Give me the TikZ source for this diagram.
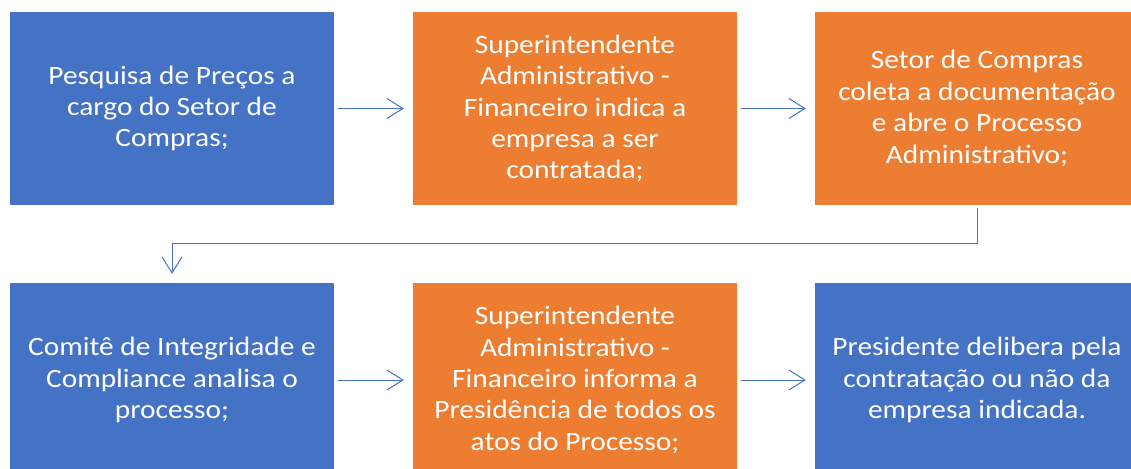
\documentclass[tikz,border=0pt]{standalone}
\usepackage{fontspec}
\setmainfont{Carlito}[FakeStretch=1.11]
\usetikzlibrary{arrows.meta}
\definecolor{cblue}{HTML}{4472C4}
\definecolor{corange}{HTML}{ED7D31}
\tikzset{
  stepbox/.style={rectangle, minimum width=324pt, inner sep=0pt, align=center, text=white,
    font=\fontsize{26.5}{31.4}\selectfont},
  topbox/.style={stepbox, minimum height=193pt},
  botbox/.style={stepbox, minimum height=194pt},
  conn/.style={draw=cblue, line width=1pt, -{Straight Barb[length=16pt,width=20pt,line width=1pt]}},
}
\begin{document}
\begin{tikzpicture}[x=1pt,y=-1pt]
\useasboundingbox (0,0) rectangle (1131,468);
\clip (0,0) rectangle (1131,468);
\node[topbox, fill=cblue] (b1) at (172,108.5) {Pesquisa de Preços a\\cargo do Setor de\\Compras;};
\node[topbox, fill=corange] (b2) at (575,108.5) {Superintendente\\Administrativo -\\Financeiro indica a\\empresa a ser\\contratada;};
\node[topbox, fill=corange] (b3) at (977,108.5) {Setor de Compras\\coleta a documentação\\e abre o Processo\\Administrativo;};
\node[botbox, fill=cblue] (b4) at (172,380) {Comitê de Integridade e\\Compliance analisa o\\processo;};
\node[botbox, fill=corange] (b5) at (575,380) {Superintendente\\Administrativo -\\Financeiro informa a\\Presidência de todos os\\atos do Processo;};
\node[botbox, fill=cblue] (b6) at (977,380) {Presidente delibera pela\\contratação ou não da\\empresa indicada.};
\coordinate (m) at (977,243);
\draw[conn, shorten <=4pt, shorten >=9pt] (b1.east) -- (b2.west);
\draw[conn, shorten <=4pt, shorten >=9pt] (b2.east) -- (b3.west);
\draw[conn, shorten <=3pt, shorten >=9pt] (b3.south) -- (m) -| (b4.north);
\draw[conn, shorten <=4pt, shorten >=9pt] (b4.east) -- (b5.west);
\draw[conn, shorten <=4pt, shorten >=9pt] (b5.east) -- (b6.west);
\end{tikzpicture}
\end{document}
